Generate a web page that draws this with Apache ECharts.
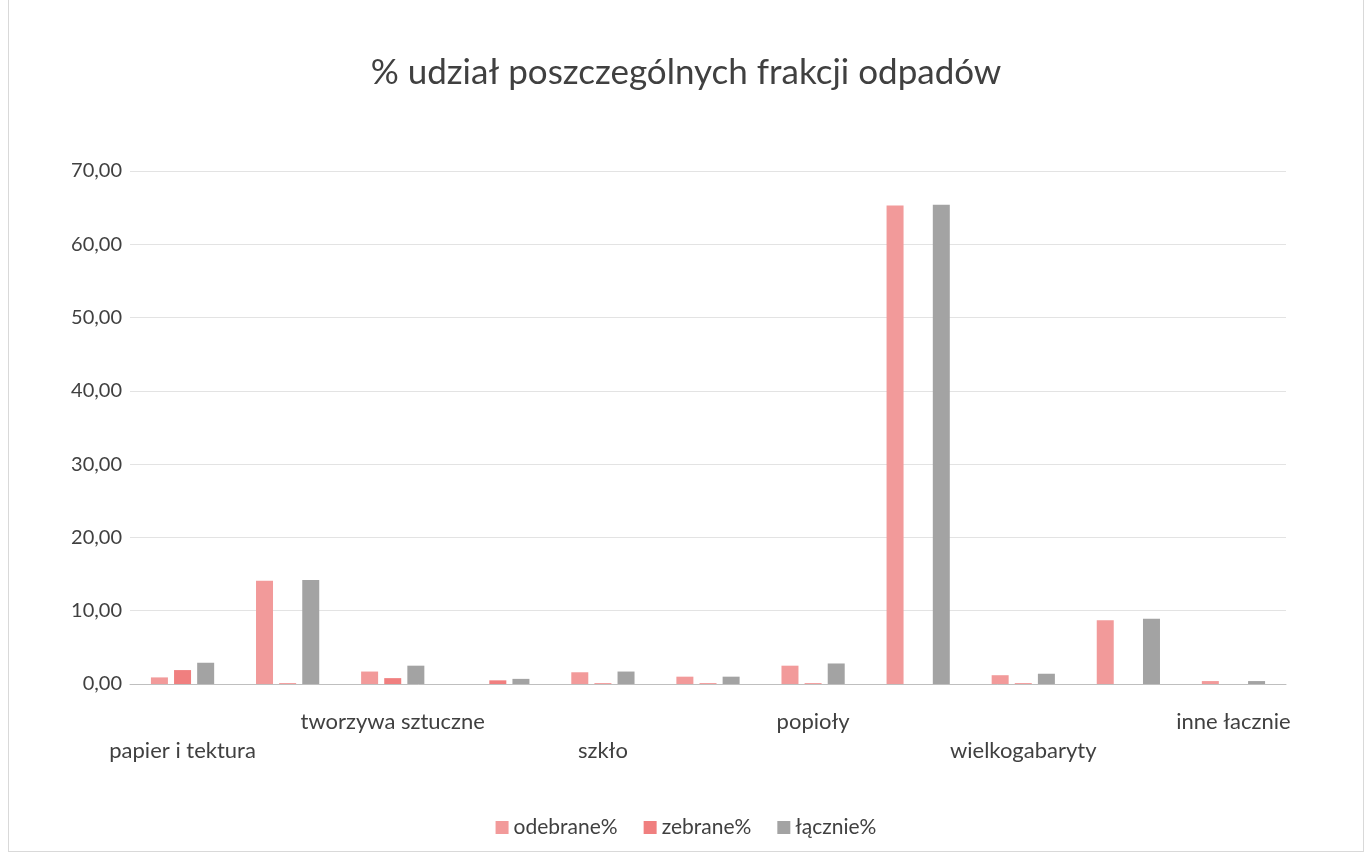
<!DOCTYPE html>
<html>
<head>
<meta charset="utf-8">
<script src="https://cdn.jsdelivr.net/npm/echarts@6/dist/echarts.min.js"></script>
<style>
  html, body { margin: 0; padding: 0; background: #fff; }
  #chart { width: 1372px; height: 856px; }
  .frame { position: absolute; left: 8px; top: 0; width: 1356px; height: 852px; border: 1px solid #d9d9d9; border-top: none; box-sizing: border-box; pointer-events: none; }
</style>
</head>
<body>
<div id="chart"></div>
<div class="frame"></div>
<script>
// kategorie (co druga etykieta widoczna na osi)
var kategorie = ['papier i tektura', '', 'tworzywa sztuczne', '', 'szkło', '', 'popioły', '', 'wielkogabaryty', '', 'inne łacznie'];
var serieNazwy = ['odebrane%', 'zebrane%', 'łącznie%'];
// wartości
var odebrane = [0.9, 14.1, 1.7, 0.0, 1.6, 1.0, 2.5, 65.3, 1.2, 8.7, 0.4];
var zebrane  = [1.9, 0.1, 0.8, 0.5, 0.1, 0.1, 0.1, 0.0, 0.1, 0.0, 0.0];
var lacznie  = [2.9, 14.2, 2.5, 0.7, 1.7, 1.0, 2.8, 65.4, 1.4, 8.9, 0.4];
var osY = [0, 10, 20, 30, 40, 50, 60, 70];

var myChart = echarts.init(document.getElementById('chart'));
var font = 'Lato, "Open Sans", sans-serif';

var option = {
    animation: false,
    backgroundColor: '#fff',
    title: {
        text: '% udział poszczególnych frakcji odpadów',
        left: 'center',
        top: 50,
        textStyle: { fontFamily: font, fontSize: 35, fontWeight: 'normal', color: '#404040' }
    },
    legend: {
        data: serieNazwy,
        bottom: 13,
        left: 'center',
        itemWidth: 13,
        itemHeight: 13,
        itemGap: 26,
        icon: 'rect',
        textStyle: { fontFamily: font, fontSize: 21, color: '#404040' }
    },
    grid: { left: 130, right: 86, top: 171, bottom: 172 },
    xAxis: {
        type: 'category',
        data: kategorie,
        axisLine: { lineStyle: { color: '#bfbfbf' } },
        axisTick: { show: false },
        axisLabel: {
            interval: 0,
            margin: 23,
            fontFamily: font,
            fontSize: 22,
            color: '#404040',
            lineHeight: 29,
            formatter: function (v, i) {
                if (v === '') return '';
                return (i % 4 === 0) ? '\n' + v : v;
            }
        }
    },
    yAxis: {
        type: 'value',
        min: osY[0],
        max: osY[osY.length - 1],
        interval: 10,
        axisLine: { show: false },
        axisTick: { show: false },
        splitLine: { lineStyle: { color: '#e3e3e3' } },
        axisLabel: {
            margin: 8,
            fontFamily: font,
            fontSize: 20,
            color: '#404040',
            formatter: function (v) { return v.toFixed(2).replace('.', ','); }
        }
    },
    series: [{
        name: serieNazwy[0],
        type: 'bar',
        barWidth: 17,
        barGap: '36%',
        itemStyle: { color: '#f29a9a' },
        data: odebrane
    }, {
        name: serieNazwy[1],
        type: 'bar',
        barWidth: 17,
        barGap: '36%',
        itemStyle: { color: '#f07f7f' },
        data: zebrane
    }, {
        name: serieNazwy[2],
        type: 'bar',
        barWidth: 17,
        barGap: '36%',
        itemStyle: { color: '#a3a3a3' },
        data: lacznie
    }]
};
myChart.setOption(option);
</script>
</body>
</html>
